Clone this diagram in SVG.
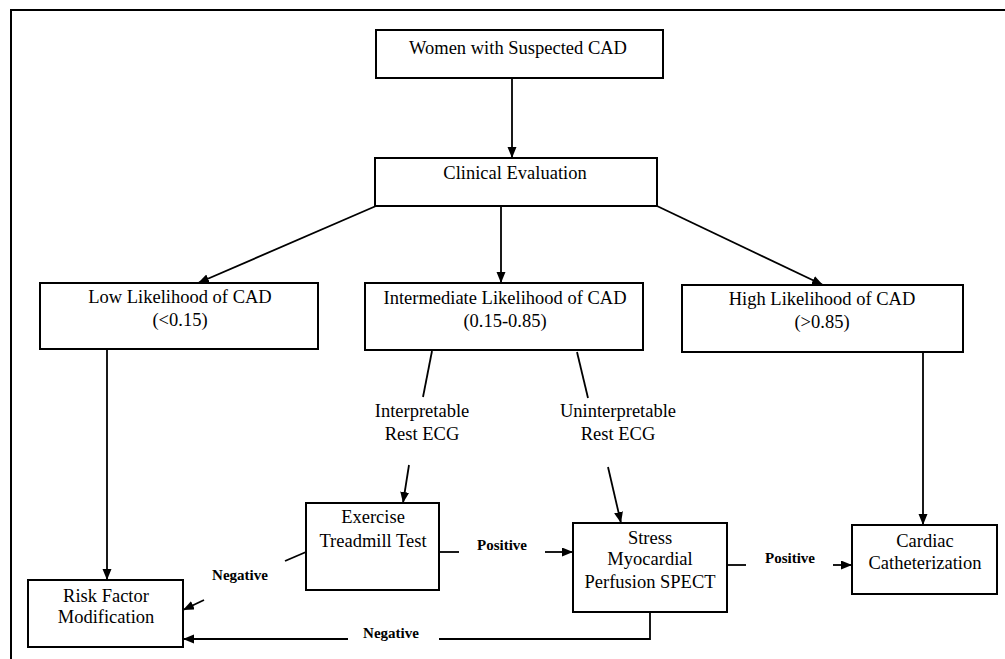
<svg xmlns="http://www.w3.org/2000/svg" width="1005" height="659" viewBox="0 0 1005 659">
<style>
.box{fill:#fff;stroke:#000;stroke-width:2}
.t{font-family:"Liberation Serif","Times New Roman",serif;font-size:18.5px;fill:#000;text-anchor:middle}
.lb{font-family:"Liberation Serif","Times New Roman",serif;font-size:15px;font-weight:bold;fill:#000;text-anchor:middle}
.c{fill:none;stroke:#000;stroke-width:1.8}
</style>
<defs>
<marker id="ah" markerUnits="userSpaceOnUse" markerWidth="12" markerHeight="10" refX="11" refY="4.5" orient="auto">
<path d="M0,0 L11,4.5 L0,9 z" fill="#000"/>
</marker>
</defs>
<rect width="1005" height="659" fill="#fff"/>
<g id="frame">
<path d="M11,659 L11,10 L1005,10" fill="none" stroke="#000" stroke-width="2"/>
</g>
<g id="connectors">
<line class="c" x1="512" y1="78" x2="512" y2="158" marker-end="url(#ah)"/>
<line class="c" x1="376" y1="206" x2="198" y2="283" marker-end="url(#ah)"/>
<line class="c" x1="501" y1="206" x2="501" y2="283" marker-end="url(#ah)"/>
<line class="c" x1="657" y1="206" x2="823" y2="285" marker-end="url(#ah)"/>
<line class="c" x1="107" y1="349" x2="107" y2="580" marker-end="url(#ah)"/>
<line class="c" x1="923" y1="352" x2="923" y2="525" marker-end="url(#ah)"/>
<line class="c" x1="432" y1="351" x2="423" y2="397"/>
<line class="c" x1="577" y1="352" x2="588" y2="398"/>
<line class="c" x1="409" y1="465" x2="403" y2="503" marker-end="url(#ah)"/>
<line class="c" x1="608" y1="467" x2="621" y2="523" marker-end="url(#ah)"/>
<line class="c" x1="439" y1="552" x2="459" y2="552"/>
<line class="c" x1="545" y1="552" x2="573" y2="552" marker-end="url(#ah)"/>
<line class="c" x1="727" y1="565" x2="746" y2="565"/>
<line class="c" x1="833" y1="565" x2="852" y2="565" marker-end="url(#ah)"/>
<line class="c" x1="306" y1="552" x2="285" y2="561"/>
<line class="c" x1="204" y1="600" x2="183" y2="610" marker-end="url(#ah)"/>
<path class="c" d="M650,612 L650,639 L439,639"/>
<line class="c" x1="348" y1="639" x2="183" y2="639" marker-end="url(#ah)"/>
<text class="lb" x="502" y="550">Positive</text>
<text class="lb" x="790" y="563">Positive</text>
<text class="lb" x="240" y="580">Negative</text>
<text class="lb" x="391" y="638">Negative</text>
<text class="t" x="422" y="417">Interpretable</text>
<text class="t" x="422" y="440">Rest ECG</text>
<text class="t" x="618" y="417">Uninterpretable</text>
<text class="t" x="618" y="440">Rest ECG</text>
</g>
<g id="women">
<rect class="box" x="376" y="30" width="287" height="48"/>
<text class="t" x="518" y="54">Women with Suspected CAD</text>
</g>
<g id="clinical">
<rect class="box" x="375" y="158" width="282" height="48"/>
<text class="t" x="515" y="179">Clinical Evaluation</text>
</g>
<g id="low">
<rect class="box" x="40" y="283" width="278" height="66"/>
<text class="t" x="180" y="303">Low Likelihood of CAD</text>
<text class="t" x="180" y="326">(&lt;0.15)</text>
</g>
<g id="intermediate">
<rect class="box" x="365" y="283" width="278" height="67"/>
<text class="t" x="505" y="304">Intermediate Likelihood of CAD</text>
<text class="t" x="505" y="327">(0.15-0.85)</text>
</g>
<g id="high">
<rect class="box" x="682" y="285" width="281" height="67"/>
<text class="t" x="822" y="305">High Likelihood of CAD</text>
<text class="t" x="822" y="328">(&gt;0.85)</text>
</g>
<g id="exercise">
<rect class="box" x="306" y="503" width="133" height="87"/>
<text class="t" x="373" y="523">Exercise</text>
<text class="t" x="373" y="547">Treadmill Test</text>
</g>
<g id="stress">
<rect class="box" x="573" y="523" width="154" height="89"/>
<text class="t" x="650" y="544">Stress</text>
<text class="t" x="650" y="565">Myocardial</text>
<text class="t" x="650" y="588">Perfusion SPECT</text>
</g>
<g id="cardiac">
<rect class="box" x="852" y="525" width="145" height="69"/>
<text class="t" x="925" y="547">Cardiac</text>
<text class="t" x="925" y="569">Catheterization</text>
</g>
<g id="risk">
<rect class="box" x="28" y="580" width="155" height="67"/>
<text class="t" x="106" y="602">Risk Factor</text>
<text class="t" x="106" y="623">Modification</text>
</g>
</svg>
